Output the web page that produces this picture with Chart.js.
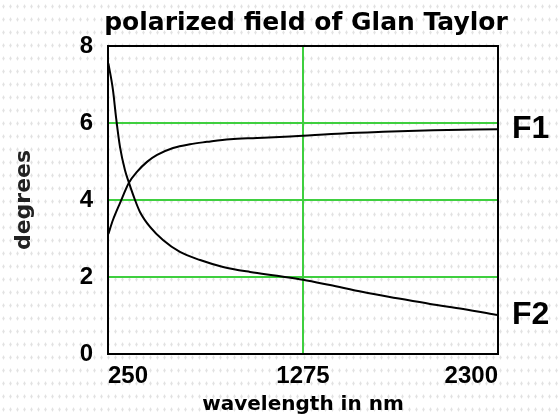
<!DOCTYPE html>
<html>
<head>
<meta charset="utf-8">
<script src="https://cdn.jsdelivr.net/npm/chart.js@4.4.1/dist/chart.umd.min.js"></script>
<style>
  html, body { margin: 0; padding: 0; }
  body {
    width: 560px; height: 419px; background-color: #fff;
    background-image: radial-gradient(#e2e2e2 0.9px, transparent 1.2px);
    background-size: 7px 13px;
  }
  #wrap { width: 560px; height: 419px; }
</style>
</head>
<body>
<div id="wrap"><canvas id="chart"></canvas></div>
<script>
// values (wavelength in nm, field in degrees)
const f1Wavelength = [252, 276, 313, 360, 402, 455, 508, 592, 681, 770, 891, 1033, 1207, 1275, 1485, 1696, 1959, 2300];
const f1Degrees = [3.12, 3.48, 3.92, 4.45, 4.73, 4.99, 5.17, 5.35, 5.45, 5.51, 5.58, 5.61, 5.65, 5.67, 5.73, 5.77, 5.81, 5.84];

const f2Wavelength = [252, 276, 292, 313, 339, 360, 392, 418, 471, 539, 628, 734, 855, 997, 1138, 1275, 1417, 1591, 1770, 1943, 2117, 2300];
const f2Degrees = [7.55, 6.86, 6.16, 5.38, 4.78, 4.45, 4.0, 3.69, 3.30, 2.96, 2.65, 2.44, 2.26, 2.13, 2.03, 1.93, 1.79, 1.61, 1.45, 1.30, 1.17, 1.01];

const xTicks = [250, 1275, 2300];
const yTicks = [0, 2, 4, 6, 8];

const GREEN = "#3fcf3f";
const pairs = (xs, ys) => xs.map((x, i) => ({x, y: ys[i]}));

// box around the plot, the title and the F1/F2 tags at the line ends
const framePlugin = {
  id: "frame",
  afterDatasetsDraw(chart) {
    const {ctx, chartArea: a, scales} = chart;
    ctx.save();
    ctx.strokeStyle = "#000";
    ctx.lineWidth = 2;
    ctx.strokeRect(a.left, a.top, a.right - a.left, a.bottom - a.top);

    ctx.fillStyle = "#000";
    ctx.font = "bold 25px 'DejaVu Sans'";
    ctx.textAlign = "center";
    ctx.textBaseline = "alphabetic";
    ctx.fillText("polarized field of Glan Taylor", (a.left + a.right) / 2 + 3, 30);

    ctx.font = "bold 32px 'Liberation Sans'";
    ctx.textAlign = "left";
    ctx.textBaseline = "middle";
    for (const ds of chart.data.datasets) {
      const last = ds.data[ds.data.length - 1];
      ctx.fillText(ds.label, a.right + 14, scales.y.getPixelForValue(last.y));
    }
    ctx.restore();
  },
};

new Chart(document.getElementById("chart"), {
  type: "line",
  data: {
    datasets: [
      {
        label: "F1",
        data: pairs(f1Wavelength, f1Degrees),
        borderColor: "#000",
        borderWidth: 2,
        pointRadius: 0,
        cubicInterpolationMode: "monotone",
      },
      {
        label: "F2",
        data: pairs(f2Wavelength, f2Degrees),
        borderColor: "#000",
        borderWidth: 2,
        pointRadius: 0,
        cubicInterpolationMode: "monotone",
      },
    ],
  },
  options: {
    responsive: true,
    maintainAspectRatio: false,
    animation: false,
    layout: {padding: {top: 46, right: 62, left: 0, bottom: 0}},
    plugins: {
      legend: {display: false},
      tooltip: {enabled: false},
    },
    scales: {
      x: {
        type: "linear",
        min: 250,
        max: 2300,
        afterBuildTicks(scale) {
          scale.ticks = xTicks.map(v => ({value: v}));
        },
        afterFit(scale) {
          scale.height = 65;
        },
        border: {display: false},
        grid: {
          drawTicks: false,
          lineWidth: 2,
          color: c => (c.tick && c.tick.value === 1275 ? GREEN : "rgba(0,0,0,0)"),
        },
        ticks: {
          align: "inner",
          padding: 8,
          color: "#000",
          font: {family: "Liberation Sans", weight: "bold", size: 24},
          callback: v => String(v),
        },
        title: {
          display: true,
          text: "wavelength in nm",
          color: "#000",
          font: {family: "DejaVu Sans", weight: "bold", size: 20},
          padding: {top: 3, bottom: 2},
        },
      },
      y: {
        min: 0,
        max: 8,
        afterBuildTicks(scale) {
          scale.ticks = yTicks.map(v => ({value: v}));
        },
        afterFit(scale) {
          scale.width = 108;
        },
        border: {display: false},
        grid: {
          drawTicks: false,
          lineWidth: 2,
          color: c => (c.tick && c.tick.value > 0 && c.tick.value < 8 ? GREEN : "rgba(0,0,0,0)"),
        },
        ticks: {
          padding: 15,
          color: "#000",
          font: {family: "Liberation Sans", weight: "bold", size: 24},
        },
        title: {
          display: true,
          text: "degrees",
          color: "#222",
          font: {family: "DejaVu Sans", weight: "bold", size: 22},
          padding: {top: 11, bottom: 0},
        },
      },
    },
  },
  plugins: [framePlugin],
});
</script>
</body>
</html>
